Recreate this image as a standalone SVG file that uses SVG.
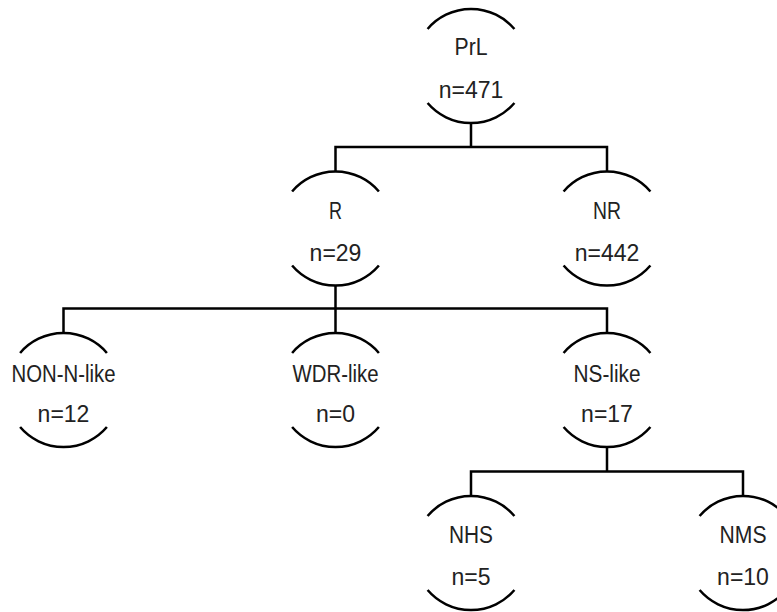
<svg xmlns="http://www.w3.org/2000/svg" width="777" height="612" viewBox="0 0 777 612">
<style>
.arc{fill:none;stroke:#000;stroke-width:2.5}
.con{fill:none;stroke:#000;stroke-width:2.5}
text{font-family:"Liberation Sans",Arial,sans-serif;font-size:23px;fill:#222;text-anchor:middle}
</style>
<defs>
<path id="shape" d="M-43.4,-37 A57,57 0 0 1 43.4,-37 M-43.4,37 A57,57 0 0 0 43.4,37"/>
</defs>
<rect width="777" height="612" fill="#fff"/>
<g id="connectors" class="con">
<path d="M471,123 V147 M335.5,171.5 V147 H607 V171.5"/>
<path d="M335.5,285.5 V308.5 M63.5,333 V308.5 H607 V333 M335.5,308.5 V333"/>
<path d="M607,447 V471.5 M471,496 V471.5 H743 V496"/>
</g>
<g id="PrL" transform="translate(471,66)"><use href="#shape" class="arc"/><text y="-11" textLength="33" lengthAdjust="spacingAndGlyphs">PrL</text><text y="32">n=471</text></g>
<g id="R" transform="translate(335.5,228.5)"><use href="#shape" class="arc"/><text y="-10" textLength="13" lengthAdjust="spacingAndGlyphs">R</text><text y="32">n=29</text></g>
<g id="NR" transform="translate(607,228.5)"><use href="#shape" class="arc"/><text y="-10" textLength="28" lengthAdjust="spacingAndGlyphs">NR</text><text y="32">n=442</text></g>
<g id="NON-N-like" transform="translate(63.5,390)"><use href="#shape" class="arc"/><text y="-8" textLength="104" lengthAdjust="spacingAndGlyphs">NON-N-like</text><text y="32">n=12</text></g>
<g id="WDR-like" transform="translate(335.5,390)"><use href="#shape" class="arc"/><text y="-8" textLength="86" lengthAdjust="spacingAndGlyphs">WDR-like</text><text y="32">n=0</text></g>
<g id="NS-like" transform="translate(607,390)"><use href="#shape" class="arc"/><text y="-8" textLength="67" lengthAdjust="spacingAndGlyphs">NS-like</text><text y="32">n=17</text></g>
<g id="NHS" transform="translate(471,553)"><use href="#shape" class="arc"/><text y="-10" textLength="44" lengthAdjust="spacingAndGlyphs">NHS</text><text y="32">n=5</text></g>
<g id="NMS" transform="translate(743,553)"><use href="#shape" class="arc"/><text y="-10" textLength="47" lengthAdjust="spacingAndGlyphs">NMS</text><text y="32">n=10</text></g>
</svg>
